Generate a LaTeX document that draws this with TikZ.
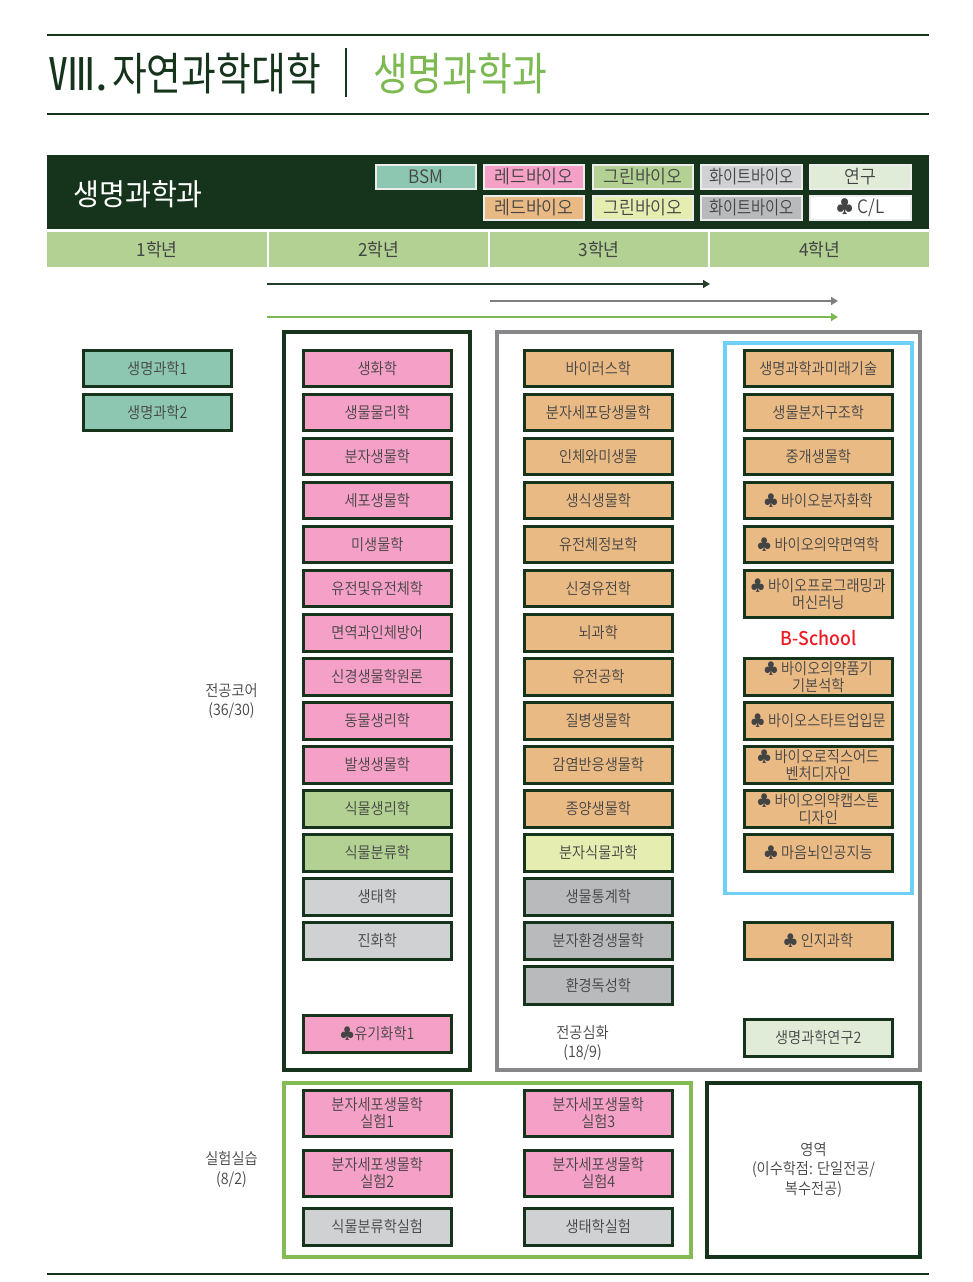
\documentclass[tikz,border=0pt]{standalone}
\usepackage{fontspec}
\usetikzlibrary{arrows.meta}
\setmainfont{Noto Sans CJK KR DemiLight}[FakeStretch=0.9]
\newfontfamily\kreg{Noto Sans CJK KR}[FakeStretch=0.95]
\newfontfamily\kdept{Noto Sans CJK KR}[FakeStretch=0.94]
\newfontfamily\ktitle{Noto Sans CJK KR}[FakeStretch=0.84]
\newfontfamily\knum{Noto Sans CJK KR}[FakeStretch=1.02]
\newfontfamily\kchip{Noto Sans CJK KR DemiLight}[FakeStretch=0.93]
\newfontfamily\kchipn{Noto Sans CJK KR DemiLight}[FakeStretch=0.83]
\newfontfamily\kbs{Noto Sans CJK KR Medium}[FakeStretch=0.93]
\definecolor{dkgreen}{HTML}{16341C}
\definecolor{yeargreen}{HTML}{B2D193}
\definecolor{pinkc}{HTML}{F5A0C6}
\definecolor{orangec}{HTML}{EABA85}
\definecolor{grayl}{HTML}{D0D1D3}
\definecolor{grayd}{HTML}{B8BABC}
\definecolor{limec}{HTML}{E6EDB0}
\definecolor{tealc}{HTML}{8DC7B1}
\definecolor{ltgreen}{HTML}{E1ECD8}
\definecolor{framegray}{HTML}{87878A}
\definecolor{frameblue}{HTML}{6FD0F5}
\definecolor{framegreen}{HTML}{84BB55}
\definecolor{titlegreen}{HTML}{7CB951}
\definecolor{txt}{HTML}{444444}
\definecolor{arrowgray}{HTML}{7F7F7F}
\definecolor{bsred}{HTML}{ED1C24}
\tikzset{
  course/.style={draw=dkgreen,line width=3pt,inner sep=0pt,outer sep=0pt,text=txt,align=center,font=\fontsize{15.8}{17}\selectfont},
  chip/.style={draw=white!85!gray,line width=1.5pt,inner sep=0pt,outer sep=0pt,text=txt,font=\kchip\fontsize{18.5}{18.5}\selectfont},
  year/.style={inner sep=0pt,outer sep=0pt,fill=yeargreen,text=txt,font=\kreg\fontsize{18}{18}\selectfont},
  lbl/.style={inner sep=0pt,outer sep=0pt,text=txt,align=center,font=\fontsize{15.8}{19.5}\selectfont},
  frameb/.style={line width=4pt},
  rule/.style={draw=dkgreen,line width=2pt},
  flow/.style={line width=1.5pt,-{Triangle[length=7pt,width=8pt]}}
}
\newcommand{\cbox}[7]{\node[course,fill=#6,minimum width={#4-#2-2.5},minimum height={#5-#3-2.5}] (#1) at ({(#2+#4)/2+0.25},{(#3+#5)/2+0.25}) {#7};}
\newcommand{\chipbox}[7]{\node[chip,fill=#6,minimum width={#4-#2-2},minimum height={#5-#3-2}] (#1) at ({(#2+#4)/2},{(#3+#5)/2}) {#7};}
\newcommand{\yearbox}[4]{\node[year,minimum width={#3-#2},minimum height=35] (#1) at ({(#2+#3)/2},249.5) {#4};}
\begin{document}
\begin{tikzpicture}[x=1pt,y=-1pt]
\useasboundingbox (0,0) rectangle (972,1282);
% title
\coordinate (t1a) at (47,35); \coordinate (t1b) at (929,35);
\coordinate (t2a) at (47,114); \coordinate (t2b) at (929,114);
\coordinate (t3a) at (47,1274); \coordinate (t3b) at (929,1274);
\coordinate (sepa) at (346,48); \coordinate (sepb) at (346,97);
\draw[rule] (t1a)--(t1b);
\draw[rule] (t2a)--(t2b);
\draw[rule] (t3a)--(t3b);
\draw[dkgreen,line width=1.8pt] (sepa)--(sepb);
\node[anchor=west,inner sep=0pt,text=dkgreen,font=\knum\fontsize{45}{45}\selectfont] (num) at (49,74) {Ⅷ.};
\node[anchor=west,inner sep=0pt,text=dkgreen,font=\ktitle\fontsize{45}{45}\selectfont] (title) at (112,74) {자연과학대학};
\node[anchor=west,inner sep=0pt,text=titlegreen,font=\ktitle\fontsize{45}{45}\selectfont] (subtitle) at (373,74) {생명과학과};
% header band
\fill[dkgreen] (47,155) rectangle (929,229);
\node[anchor=west,inner sep=0pt,text=white,font=\kdept\fontsize{30}{30}\selectfont] (dept) at (73,194) {생명과학과};
\chipbox{c1}{375}{164}{477}{190}{tealc}{BSM}
\chipbox{c2}{483}{164}{585}{190}{pinkc}{레드바이오}
\chipbox{c3}{592}{164}{694}{190}{yeargreen}{그린바이오}
\chipbox{c4}{700}{164}{803}{190}{grayl}{\kchipn 화이트바이오}
\chipbox{c5}{809}{164}{912}{190}{ltgreen}{연구}
\chipbox{c6}{483}{195}{585}{221}{orangec}{레드바이오}
\chipbox{c7}{592}{195}{694}{221}{limec}{그린바이오}
\chipbox{c8}{700}{195}{803}{221}{grayd}{\kchipn 화이트바이오}
\chipbox{c9}{809}{195}{912}{221}{white}{♣ C/L}
% years
\yearbox{y1}{47}{267}{1학년}
\yearbox{y2}{269}{488}{2학년}
\yearbox{y3}{490}{708}{3학년}
\yearbox{y4}{710}{929}{4학년}
% arrows
\coordinate (a1s) at (267,284); \coordinate (a1e) at (710,284);
\coordinate (a2s) at (490,301); \coordinate (a2e) at (838,301);
\coordinate (a3s) at (267,317); \coordinate (a3e) at (838,317);
\draw[flow,dkgreen!85!gray] (a1s)--(a1e);
\draw[flow,arrowgray] (a2s)--(a2e);
\draw[flow,titlegreen] (a3s)--(a3e);
% frames
\draw[frameb,draw=dkgreen] (284,331.5) rectangle (470,1069.5);
\draw[frameb,draw=framegray] (497,331.5) rectangle (919.5,1069.5);
\draw[line width=3.5pt,draw=frameblue] (725,343) rectangle (912,893.5);
\draw[frameb,draw=framegreen] (284,1083) rectangle (691,1256.5);
\draw[frameb,draw=dkgreen] (707,1083) rectangle (919.5,1256.5);
% 1st year
\cbox{a1}{82}{349}{232}{387}{tealc}{생명과학1}
\cbox{a2}{82}{393}{232}{431}{tealc}{생명과학2}
% 2nd year
\cbox{b1}{302}{349}{452}{387}{pinkc}{생화학}
\cbox{b2}{302}{393}{452}{431}{pinkc}{생물물리학}
\cbox{b3}{302}{437}{452}{475}{pinkc}{분자생물학}
\cbox{b4}{302}{481}{452}{519}{pinkc}{세포생물학}
\cbox{b5}{302}{525}{452}{563}{pinkc}{미생물학}
\cbox{b6}{302}{569}{452}{607}{pinkc}{유전및유전체학}
\cbox{b7}{302}{613}{452}{652}{pinkc}{면역과인체방어}
\cbox{b8}{302}{657}{452}{696}{pinkc}{신경생물학원론}
\cbox{b9}{302}{701}{452}{740}{pinkc}{동물생리학}
\cbox{b10}{302}{745}{452}{784}{pinkc}{발생생물학}
\cbox{b11}{302}{789}{452}{828}{yeargreen}{식물생리학}
\cbox{b12}{302}{833}{452}{872}{yeargreen}{식물분류학}
\cbox{b13}{302}{877}{452}{916}{grayl}{생태학}
\cbox{b14}{302}{921}{452}{960}{grayl}{진화학}
\cbox{b15}{302}{1014}{452}{1053}{pinkc}{♣유기화학1}
% 3rd year
\cbox{d1}{523}{349}{673}{387}{orangec}{바이러스학}
\cbox{d2}{523}{393}{673}{431}{orangec}{분자세포당생물학}
\cbox{d3}{523}{437}{673}{475}{orangec}{인체와미생물}
\cbox{d4}{523}{481}{673}{519}{orangec}{생식생물학}
\cbox{d5}{523}{525}{673}{563}{orangec}{유전체정보학}
\cbox{d6}{523}{569}{673}{607}{orangec}{신경유전학}
\cbox{d7}{523}{613}{673}{652}{orangec}{뇌과학}
\cbox{d8}{523}{657}{673}{696}{orangec}{유전공학}
\cbox{d9}{523}{701}{673}{740}{orangec}{질병생물학}
\cbox{d10}{523}{745}{673}{784}{orangec}{감염반응생물학}
\cbox{d11}{523}{789}{673}{828}{orangec}{종양생물학}
\cbox{d12}{523}{833}{673}{872}{limec}{분자식물과학}
\cbox{d13}{523}{877}{673}{916}{grayd}{생물통계학}
\cbox{d14}{523}{921}{673}{960}{grayd}{분자환경생물학}
\cbox{d15}{523}{965}{673}{1005}{grayd}{환경독성학}
% 4th year
\cbox{e1}{743}{349}{893}{387}{orangec}{생명과학과미래기술}
\cbox{e2}{743}{393}{893}{431}{orangec}{생물분자구조학}
\cbox{e3}{743}{437}{893}{475}{orangec}{중개생물학}
\cbox{e4}{743}{481}{893}{519}{orangec}{♣ 바이오분자화학}
\cbox{e5}{743}{525}{893}{563}{orangec}{♣ 바이오의약면역학}
\cbox{e6}{743}{569}{893}{618}{orangec}{♣ 바이오프로그래밍과\\머신러닝}
\node[inner sep=0pt,text=bsred,font=\kbs\fontsize{19}{19}\selectfont] (bs) at (818.5,638) {B-School};
\cbox{e7}{743}{657}{893}{696}{orangec}{♣ 바이오의약품기\\기본석학}
\cbox{e8}{743}{701}{893}{740}{orangec}{♣ 바이오스타트업입문}
\cbox{e9}{743}{745}{893}{784}{orangec}{♣ 바이오로직스어드\\벤처디자인}
\cbox{e10}{743}{789}{893}{828}{orangec}{♣ 바이오의약캡스톤\\디자인}
\cbox{e11}{743}{833}{893}{872}{orangec}{♣ 마음뇌인공지능}
\cbox{e12}{743}{921}{893}{960}{orangec}{♣ 인지과학}
\cbox{e13}{743}{1018}{893}{1057}{ltgreen}{생명과학연구2}
% labs
\cbox{f1}{302}{1089}{452}{1137}{pinkc}{분자세포생물학\\실험1}
\cbox{f2}{302}{1149}{452}{1197}{pinkc}{분자세포생물학\\실험2}
\cbox{f3}{302}{1207}{452}{1246}{grayl}{식물분류학실험}
\cbox{f4}{523}{1089}{673}{1137}{pinkc}{분자세포생물학\\실험3}
\cbox{f5}{523}{1149}{673}{1197}{pinkc}{분자세포생물학\\실험4}
\cbox{f6}{523}{1207}{673}{1246}{grayl}{생태학실험}
% labels
\node[lbl] (l1) at (231.5,701) {전공코어\\(36/30)};
\node[lbl] (l2) at (231.5,1169.5) {실험실습\\(8/2)};
\node[lbl] (l3) at (582.5,1043) {전공심화\\(18/9)};
\node[lbl] (l4) at (813.5,1170) {영역\\(이수학점: 단일전공/\\복수전공)};
\end{tikzpicture}
\end{document}
